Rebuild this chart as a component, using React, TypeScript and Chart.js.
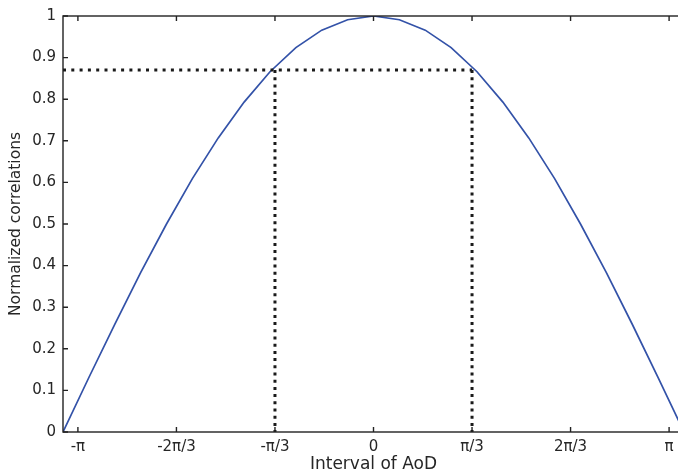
import { useEffect, useRef } from "react";
import { Chart, registerables } from "chart.js";

Chart.register(...registerables);

// Interval of AoD (rad) and normalized correlation
const aodX = [
  -3.3, -3.025, -2.75, -2.475, -2.2, -1.925, -1.65, -1.375, -1.1, -0.825, -0.55, -0.275, 0,
  0.275, 0.55, 0.825, 1.1, 1.375, 1.65, 1.925, 2.2, 2.475, 2.75, 3.025, 3.3,
];
const correlation = [
  0, 0.131, 0.259, 0.383, 0.5, 0.609, 0.707, 0.793, 0.866, 0.924, 0.966, 0.991, 1.0,
  0.991, 0.966, 0.924, 0.866, 0.793, 0.707, 0.609, 0.5, 0.383, 0.259, 0.131, 0,
];

const xRange = [-3.3, 3.3];
const xTickValues = [-Math.PI, (-2 * Math.PI) / 3, -Math.PI / 3, 0, Math.PI / 3, (2 * Math.PI) / 3, Math.PI];
const xTickLabels = ["-π", "-2π/3", "-π/3", "0", "π/3", "2π/3", "π"];
const yTickValues = [0, 0.1, 0.2, 0.3, 0.4, 0.5, 0.6, 0.7, 0.8, 0.9, 1];
const yTickLabels = ["0", "0.1", "0.2", "0.3", "0.4", "0.5", "0.6", "0.7", "0.8", "0.9", "1"];

// dotted reference lines
const refX = [-Math.PI / 3, Math.PI / 3];
const refY = 0.87;

const CANVAS_W = 692;
const CANVAS_H = 475;

const boxPlugin = {
  id: "matlabBox",
  afterDatasetsDraw(chart: any) {
    const { ctx, chartArea: a, scales } = chart;
    const xs = scales.x;
    const ys = scales.y;
    ctx.save();
    ctx.strokeStyle = "#222222";
    ctx.lineWidth = 1.4;
    ctx.strokeRect(a.left, a.top, a.right - a.left, a.bottom - a.top);
    ctx.beginPath();
    const L = 5;
    xs.ticks.forEach((t: any) => {
      const px = xs.getPixelForValue(t.value);
      ctx.moveTo(px, a.bottom);
      ctx.lineTo(px, a.bottom - L);
      ctx.moveTo(px, a.top);
      ctx.lineTo(px, a.top + L);
    });
    ys.ticks.forEach((t: any) => {
      const py = ys.getPixelForValue(t.value);
      ctx.moveTo(a.left, py);
      ctx.lineTo(a.left + L, py);
      ctx.moveTo(a.right, py);
      ctx.lineTo(a.right - L, py);
    });
    ctx.stroke();
    ctx.restore();
  },
};

export default function App() {
  const ref = useRef<HTMLCanvasElement | null>(null);

  useEffect(() => {
    if (!ref.current) return;
    const font = { family: "DejaVu Sans", size: 15 };
    const dotted = {
      borderColor: "#1a1a1a",
      borderWidth: 3,
      pointRadius: 0,
      fill: false,
      borderCapStyle: "butt" as const,
    };
    const chart = new Chart(ref.current, {
      type: "line",
      data: {
        datasets: [
          {
            ...dotted,
            label: "h",
            borderDash: [3, 5.3],
            data: [
              { x: xRange[0], y: refY },
              { x: refX[1], y: refY },
            ],
          },
          {
            ...dotted,
            label: "v1",
            borderDash: [3, 4.2],
            data: [
              { x: refX[0], y: refY },
              { x: refX[0], y: 0 },
            ],
          },
          {
            ...dotted,
            label: "v2",
            borderDash: [3, 4.2],
            data: [
              { x: refX[1], y: refY },
              { x: refX[1], y: 0 },
            ],
          },
          {
            label: "corr",
            data: aodX.map((x, i) => ({ x, y: correlation[i] })),
            borderColor: "#3352a8",
            borderWidth: 1.7,
            pointRadius: 0,
            tension: 0,
            fill: false,
          },
        ],
      },
      options: {
        animation: false,
        responsive: false,
        devicePixelRatio: 1,
        layout: { padding: { top: 12, right: 8, left: 0, bottom: 0 } },
        plugins: { legend: { display: false }, tooltip: { enabled: false } },
        scales: {
          x: {
            type: "linear",
            min: xRange[0],
            max: xRange[1],
            grid: { display: true, drawOnChartArea: false, drawTicks: false },
            border: { display: false },
            afterBuildTicks: (s: any) => {
              s.ticks = xTickValues.map((v) => ({ value: v }));
            },
            afterFit: (s: any) => {
              s.height = 43;
            },
            ticks: {
              autoSkip: false,
              maxRotation: 0,
              minRotation: 0,
              padding: 6,
              color: "#262626",
              font,
              callback: (_v: any, i: number) => xTickLabels[i],
            },
            title: {
              display: true,
              text: "Interval of AoD",
              color: "#262626",
              font: { family: "DejaVu Sans", size: 17 },
              padding: { top: 0, bottom: 0 },
            },
          },
          y: {
            type: "linear",
            min: 0,
            max: 1,
            grid: { display: true, drawOnChartArea: false, drawTicks: false },
            border: { display: false },
            afterBuildTicks: (s: any) => {
              s.ticks = yTickValues.map((v) => ({ value: v }));
            },
            afterFit: (s: any) => {
              s.width = 63;
            },
            ticks: {
              padding: 7,
              color: "#262626",
              font,
              callback: (_v: any, i: number) => yTickLabels[i],
            },
            title: {
              display: true,
              text: "Normalized correlations",
              color: "#262626",
              font: { family: "DejaVu Sans", size: 15.5 },
              padding: { top: 7, bottom: 0 },
            },
          },
        },
      },
      plugins: [boxPlugin],
    });
    return () => chart.destroy();
  }, []);

  return (
    <div
      style={{
        position: "fixed",
        left: 0,
        top: 0,
        width: 678,
        height: 475,
        overflow: "hidden",
        background: "#fff",
      }}
    >
      <canvas ref={ref} width={CANVAS_W} height={CANVAS_H} style={{ display: "block" }} />
    </div>
  );
}
